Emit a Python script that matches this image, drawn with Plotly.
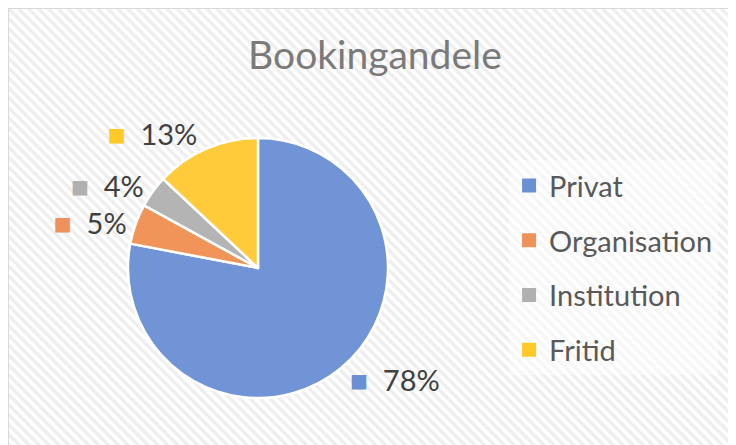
import plotly.graph_objects as go

# data
labels = ['Privat', 'Organisation', 'Institution', 'Fritid']
shares = [78, 5, 4, 13]
colors = ['#7094d5', '#f09459', '#b4b4b4', '#ffcb3a']
key_colors = ['#6a8fd3', '#ef915a', '#b0b0b0', '#ffc928']

FONT = 'Lato'

fig = go.Figure()

# hatched chart background (Excel style)
fig.add_trace(go.Scatter(
    x=[0, 1, 1, 0, 0], y=[0, 0, 1, 1, 0],
    fill='toself', mode='lines', line=dict(width=0),
    fillcolor='white',
    fillpattern=dict(shape='\\', size=7, solidity=0.5,
                     fgcolor='#dedede', bgcolor='white'),
    hoverinfo='skip', showlegend=False,
))

# pie
text_tpl = [f"<span style='color:{c};font-size:30px'>■</span>  %{{percent:.0%}}" for c in key_colors]
fig.add_trace(go.Pie(
    labels=labels, values=shares,
    sort=False, direction='clockwise', rotation=0,
    marker=dict(colors=colors, line=dict(color='white', width=2.5)),
    texttemplate=text_tpl, textposition='outside',
    outsidetextfont=dict(family=FONT, size=29, color='#404040'),
    domain=dict(x=[0.163, 0.5163], y=[0.1236, 0.708]),
    showlegend=False, hoverinfo='label+percent',
))

# legend entries (one group per item so spacing can be set)
for name, c in zip(labels, key_colors):
    fig.add_trace(go.Scatter(
        x=[None], y=[None], mode='markers', name=name, legendgroup=name,
        marker=dict(symbol='square', size=14, color=c),
    ))

fig.update_xaxes(visible=False, range=[0, 1], domain=[0, 1], fixedrange=True)
fig.update_yaxes(visible=False, range=[0, 1], domain=[0, 1], fixedrange=True)

fig.update_layout(
    width=736, height=445,
    margin=dict(l=0, r=0, t=0, b=0),
    paper_bgcolor='white', plot_bgcolor='white',
    title=dict(text='Bookingandele', x=0.4986, xanchor='center', y=0.894, yanchor='middle',
               font=dict(family=FONT, size=39, color='#7a7a7a')),
    legend=dict(x=0.6808, y=0.658, xanchor='left', yanchor='top',
                bgcolor='rgba(255,255,255,0.45)', tracegroupgap=14,
                font=dict(family=FONT, size=29, color='#595959')),
    shapes=[
        dict(type='line', xref='paper', yref='paper', x0=0, x1=1,
             y0=1, y1=1, line=dict(color='#d9d9d9', width=2)),
        dict(type='line', xref='paper', yref='paper', x0=0, x1=0,
             y0=0, y1=1, line=dict(color='#d9d9d9', width=2)),
    ],
)

fig.write_html("out.html")
